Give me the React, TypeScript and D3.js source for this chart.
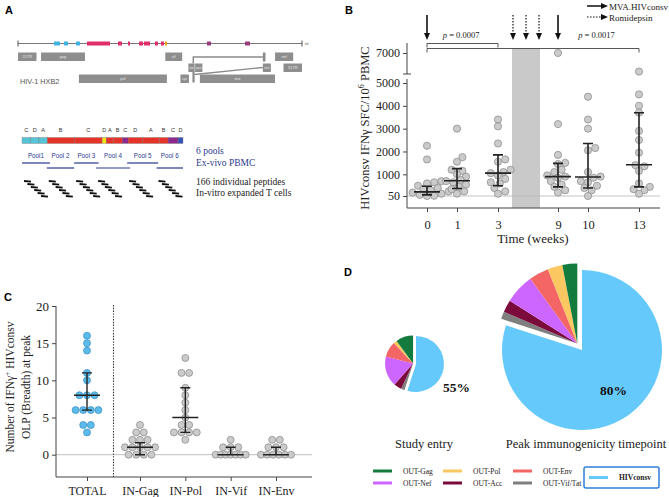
import React, { useEffect, useRef } from "react";
import * as d3 from "d3";

// ---------- A: HXB2 genome map (nt) ----------
const geneNames = ["5'LTR", "gag", "vif", "nef", "tat", "vpu", "rev", "3'LTR", "pol", "vpr", "env"];
const geneStarts = [1, 790, 5041, 8797, 5831, 6062, 8379, 9086, 2085, 5559, 6225];
const geneEnds = [634, 2292, 5619, 9417, 6045, 6310, 8653, 9719, 5096, 5850, 8795];
const geneRows = [0, 0, 0, 0, 1, 1, 1, 1, 2, 2, 2];

// conserved regions on the genome line
const consStarts = [1232, 1574, 1985, 2361, 3422, 3765, 4141, 4312, 4689, 4894, 5031, 6468, 7769];
const consEnds = [1437, 1711, 2122, 3149, 3559, 3833, 4278, 4517, 4791, 4996, 5099, 6605, 7940];
const consGene = ["gag", "gag", "gag", "pol", "pol", "pol", "pol", "pol", "pol", "pol", "vif", "env", "env"];

// immunogen segments (aa)
const segLetters = ["C", "D", "A", "B", "C", "D", "A", "B", "C", "D", "A", "B", "C", "D"];
const segLengths = [42, 40, 40, 130, 135, 20, 34, 43, 29, 68, 82, 43, 48, 24];
const segGene = ["gag", "gag", "gag", "pol", "pol", "vif", "pol", "pol", "env", "pol", "pol", "pol", "env", "tag"];

const poolNames = ["Pool1", "Pool 2", "Pool 3", "Pool 4", "Pool 5", "Pool 6"];
const poolStarts = [0, 120, 252, 358, 508, 650];
const poolEnds = [135, 252, 370, 522, 658, 778];

// ---------- B: IFN-g ELISpot over time ----------
const weeks = [0, 1, 3, 9, 10, 13];
const sfcWeek0 = [2250, 1650, 700, 650, 600, 500, 400, 350, 300, 250, 200, 150, 100, 60, 50];
const sfcWeek1 = [3000, 1750, 1550, 1200, 1150, 1000, 900, 750, 700, 650, 550, 450, 350, 250, 150];
const sfcWeek3 = [3400, 3100, 2350, 1650, 1550, 1200, 1100, 1050, 950, 800, 650, 600, 400, 250, 150];
const sfcWeek9 = [7000, 3200, 1850, 1500, 1450, 1200, 1100, 950, 900, 850, 700, 550, 450, 300, 200];
const sfcWeek10 = [4400, 3400, 3000, 2150, 2050, 1100, 900, 850, 700, 650, 500, 400, 300, 50];
const sfcWeek13 = [5500, 4500, 4000, 3700, 2900, 2500, 1950, 1400, 1350, 1150, 600, 450, 350, 300, 150];
const sfcMedian = [230, 720, 1050, 900, 880, 1420];
const sfcLow = [100, 380, 500, 450, 400, 450];
const sfcHigh = [480, 1250, 1850, 1480, 2350, 3700];
const yTicksLow = [50, 1000, 2000, 3000, 4000, 5000];
const yTicksHigh = [7000];
const mvaWeeks = [0, 9];
const romiWeeks = [4.5, 5.8, 7.1];
const romiPeriod = [4.4, 7.2];
const pFrom = [0, 0];
const pTo = [3, 13];
const pText = ["0.0007", "0.0017"];
const pLabelAt = [1.2, 10.5];

// ---------- C: breadth at peak ----------
const breadthGroups = ["TOTAL", "IN-Gag", "IN-Pol", "IN-Vif", "IN-Env"];
const breadthTotal = [16, 15, 14, 11, 10, 8, 8, 8, 6, 6, 6, 6, 4, 4, 3];
const breadthGag = [4, 3, 3, 2, 2, 2, 1, 1, 1, 1, 1, 0, 0, 0, 0];
const breadthPol = [13, 11, 11, 9, 8, 7, 6, 5, 4, 4, 3, 3, 3, 3, 2];
const breadthVif = [2, 1, 1, 1, 0, 0, 0, 0, 0, 0, 0];
const breadthEnv = [2, 2, 1, 1, 1, 0, 0, 0, 0, 0, 0];
const breadthMedian = [8, 1, 5, 0, 0];
const breadthLow = [6, 0, 3, 0, 0];
const breadthHigh = [11, 1.6, 9, 1, 1];
const breadthTicks = [0, 5, 10, 15, 20];

// ---------- D: pies ----------
const pieLabels = ["HIVconsv", "OUT-Vif/Tat", "OUT-Acc", "OUT-Nef", "OUT-Env", "OUT-Pol", "OUT-Gag"];
const entryPct = [55, 2, 4.5, 17.5, 9, 2, 10];
const peakPct = [80, 1.5, 2.5, 6, 4, 3, 3];
const legendOrder = ["OUT-Gag", "OUT-Pol", "OUT-Env", "OUT-Nef", "OUT-Acc", "OUT-Vif/Tat"];

const serif = "'Liberation Serif', 'Times New Roman', serif";
const sans = "'Liberation Sans', Arial, sans-serif";

// simple beeswarm: returns x offsets
function swarm(ys: number[], r: number) {
  const order = d3.range(ys.length).sort((a, b) => ys[b] - ys[a]);
  const placed: { x: number; y: number }[] = [];
  const xs: number[] = new Array(ys.length).fill(0);
  const minD = 2 * r * 0.85;
  for (const i of order) {
    const y = ys[i];
    const cands = [0];
    for (let k = 1; k < 40; k++) cands.push(k * r * 0.5, -k * r * 0.5);
    let best = 0;
    for (const c of cands) {
      if (placed.every((p) => (p.x - c) ** 2 + (p.y - y) ** 2 >= minD * minD)) {
        best = c;
        break;
      }
    }
    placed.push({ x: best, y });
    xs[i] = best;
  }
  return xs;
}

// symmetric rows for integer data
function rows(vals: number[], spacing: number, maxW: number) {
  const counts = d3.rollup(vals, (v) => v.length, (d) => d);
  const seen = new Map<number, number>();
  return vals.map((v) => {
    const n = counts.get(v) as number;
    const i = seen.get(v) || 0;
    seen.set(v, i + 1);
    const s = n > 1 ? Math.min(spacing, maxW / (n - 1)) : 0;
    return (i - (n - 1) / 2) * s;
  });
}

const App = () => {
  const ref = useRef<SVGSVGElement>(null);

  useEffect(() => {
    const svg = d3.select(ref.current);
    svg.selectAll("*").remove();
    svg.append("rect").attr("width", 669).attr("height", 497).attr("fill", "#fff");

    // panel letters
    const letters: [string, number, number][] = [["A", 5, 14], ["B", 345, 14], ["C", 4, 301], ["D", 344, 276]];
    svg.selectAll("text.plabel").data(letters).enter().append("text")
      .attr("class", "plabel")
      .attr("x", (d) => d[1]).attr("y", (d) => d[2])
      .attr("font-family", sans).attr("font-weight", "bold").attr("font-size", 11)
      .text((d) => d[0]);

    // ================= A =================
    const gA = svg.append("g");
    const xNt = d3.scaleLinear().domain([1, 9719]).range([18, 302]);
    const geneColor: Record<string, string> = { gag: "#3fb4e2", pol: "#e02d6b", vif: "#f3a21e", env: "#9a3b7c" };

    gA.append("line").attr("x1", xNt(1)).attr("x2", xNt(9719)).attr("y1", 43.5).attr("y2", 43.5)
      .attr("stroke", "#777").attr("stroke-width", 1.2);
    [1, 9719].forEach((n) => {
      gA.append("line").attr("x1", xNt(n)).attr("x2", xNt(n)).attr("y1", 40.5).attr("y2", 46.5)
        .attr("stroke", "#555").attr("stroke-width", 1);
    });
    gA.append("text").attr("x", xNt(9719) + 3).attr("y", 45).attr("font-family", sans)
      .attr("font-size", 4).attr("fill", "#444").text("nt");

    gA.selectAll("rect.cons").data(consStarts).enter().append("rect")
      .attr("class", "cons")
      .attr("x", (d) => xNt(d)).attr("width", (d, i) => xNt(consEnds[i]) - xNt(d))
      .attr("y", 41.5).attr("height", 4)
      .attr("fill", (d, i) => geneColor[consGene[i]]);

    const rowY = [52.5, 63.5, 74.5];
    // tat / rev splice connectors
    gA.append("path")
      .attr("d", `M${xNt(6000)},${rowY[1]} V57 H${xNt(8379)}`)
      .attr("fill", "none").attr("stroke", "#8a8a8a").attr("stroke-width", 1.5);
    gA.append("rect").attr("x", xNt(8379)).attr("width", xNt(8469) - xNt(8379))
      .attr("y", rowY[0]).attr("height", 9).attr("fill", "#8a8a8a");
    gA.append("rect").attr("x", xNt(5970)).attr("width", xNt(6045) - xNt(5970))
      .attr("y", rowY[2] - 3).attr("height", 11).attr("fill", "#8a8a8a");
    gA.append("path")
      .attr("d", `M${xNt(6045)},${rowY[2]} L${xNt(8379)},${rowY[1] + 4}`)
      .attr("fill", "none").attr("stroke", "#8a8a8a").attr("stroke-width", 1.3);

    const genes = gA.selectAll("g.gene").data(geneNames).enter().append("g").attr("class", "gene");
    genes.append("rect")
      .attr("x", (d, i) => xNt(geneStarts[i]))
      .attr("width", (d, i) => xNt(geneEnds[i]) - xNt(geneStarts[i]))
      .attr("y", (d, i) => rowY[geneRows[i]]).attr("height", 8.5)
      .attr("fill", "#8e8e8e");
    genes.append("text")
      .attr("x", (d, i) => (xNt(geneStarts[i]) + xNt(geneEnds[i])) / 2)
      .attr("y", (d, i) => rowY[geneRows[i]] + 5.8)
      .attr("text-anchor", "middle").attr("font-family", sans).attr("font-size", 3.8)
      .attr("fill", "#e8e8e8").text((d) => d);

    gA.append("text").attr("x", 20).attr("y", 84).attr("font-family", sans).attr("font-size", 7.3)
      .attr("fill", "#555").text("HIV-1 HXB2");

    // immunogen bar
    const xAa = d3.scaleLinear().domain([0, 778]).range([22, 183]);
    const segStart = segLengths.map((d, i) => d3.sum(segLengths.slice(0, i)));
    const segColor: Record<string, string> = { gag: "#56c3d6", pol: "#e5332a", vif: "#f4e11c", env: "#8c2b8d", tag: "#3652b8" };
    gA.selectAll("rect.seg").data(segLengths).enter().append("rect")
      .attr("class", "seg")
      .attr("x", (d, i) => xAa(segStart[i])).attr("width", (d, i) => xAa(segStart[i] + d) - xAa(segStart[i]))
      .attr("y", 137.5).attr("height", 6)
      .attr("fill", (d, i) => segColor[segGene[i]]).attr("stroke", "#777").attr("stroke-width", 0.35);
    gA.selectAll("text.seg").data(segLetters).enter().append("text")
      .attr("class", "seg")
      .attr("x", (d, i) => xAa(segStart[i] + segLengths[i] / 2)).attr("y", 131.5)
      .attr("text-anchor", "middle").attr("font-family", sans).attr("font-size", 5.5).attr("fill", "#333")
      .text((d) => d);

    const poolBlue = "#2b3a8f";
    gA.selectAll("text.pool").data(poolNames).enter().append("text")
      .attr("class", "pool")
      .attr("x", (d, i) => xAa((poolStarts[i] + poolEnds[i]) / 2)).attr("y", 158)
      .attr("text-anchor", "middle").attr("font-family", sans).attr("font-size", 6.3).attr("fill", poolBlue)
      .text((d) => d);
    gA.selectAll("line.pool").data(poolNames).enter().append("line")
      .attr("class", "pool")
      .attr("x1", (d, i) => xAa(poolStarts[i])).attr("x2", (d, i) => xAa(poolEnds[i]))
      .attr("y1", (d, i) => (i % 2 === 0 ? 163 : 168)).attr("y2", (d, i) => (i % 2 === 0 ? 163 : 168))
      .attr("stroke", poolBlue).attr("stroke-width", 1.2);

    // individual peptide dashes
    poolStarts.forEach((s) => {
      d3.range(6).forEach((k) => {
        const x0 = xAa(s) + 2 + k * 3.4;
        gA.append("line").attr("x1", x0).attr("x2", x0 + 7)
          .attr("y1", 181 + k * 3).attr("y2", 181.6 + k * 3)
          .attr("stroke", "#111").attr("stroke-width", 1.8);
      });
    });

    gA.append("text").attr("x", 196).attr("y", 154).attr("font-family", serif).attr("font-size", 9.5)
      .attr("fill", poolBlue).text("6 pools");
    gA.append("text").attr("x", 196).attr("y", 166).attr("font-family", serif).attr("font-size", 9.5)
      .attr("fill", poolBlue).text("Ex-vivo PBMC");
    gA.append("text").attr("x", 196).attr("y", 185).attr("font-family", serif).attr("font-size", 9.5)
      .attr("fill", "#222").text("166 individual peptides");
    gA.append("text").attr("x", 196).attr("y", 196).attr("font-family", serif).attr("font-size", 9.5)
      .attr("fill", "#222").text("In-vitro expanded T cells");

    // ================= B =================
    const gB = svg.append("g");
    const xW = d3.scaleLinear().domain(weeks).range([427, 457, 498, 558, 588, 639]);
    const yLo = d3.scaleLinear().domain([50, 5000]).range([196, 83]);
    const yHi = d3.scaleLinear().domain([6500, 7500]).range([64, 42]);
    const yB = (v: number) => (v >= 6000 ? yHi(v) : yLo(v));
    const axisX = 407;
    const baseY = 208;

    gB.append("rect").attr("x", xW(romiPeriod[0])).attr("width", xW(romiPeriod[1]) - xW(romiPeriod[0]))
      .attr("y", 48).attr("height", baseY - 48).attr("fill", "#c9c9c9");
    gB.append("line").attr("x1", axisX).attr("x2", 660).attr("y1", yLo(50)).attr("y2", yLo(50))
      .attr("stroke", "#b5b5b5").attr("stroke-width", 0.8);

    // y axis with break
    gB.append("g").attr("transform", `translate(${axisX},0)`)
      .call(d3.axisLeft(yLo).tickValues(yTicksLow).tickSize(4).tickSizeOuter(0).tickFormat(d3.format("d")))
      .call((g) => g.select(".domain").remove());
    gB.append("g").attr("transform", `translate(${axisX},0)`)
      .call(d3.axisLeft(yHi).tickValues(yTicksHigh).tickSize(4).tickSizeOuter(0).tickFormat(d3.format("d")))
      .call((g) => g.select(".domain").remove());
    gB.selectAll(".tick text").attr("font-family", serif).attr("font-size", 12).attr("fill", "#222");
    gB.selectAll(".tick line").attr("stroke", "#444");
    gB.append("path").attr("d", `M${axisX},43 V74 M${axisX - 4},74 H${axisX + 4} M${axisX},79 V${baseY} H660`)
      .attr("fill", "none").attr("stroke", "#444").attr("stroke-width", 1);

    const gBx = gB.append("g").attr("transform", `translate(0,${baseY})`)
      .call(d3.axisBottom(xW).tickValues(weeks).tickSize(4).tickFormat(d3.format("d")))
      .call((g) => g.select(".domain").remove());
    gBx.selectAll("text").attr("font-family", serif).attr("font-size", 12.5).attr("fill", "#222").attr("dy", "1.1em");
    gBx.selectAll("line").attr("stroke", "#444");

    gB.append("text").attr("x", 533).attr("y", 243).attr("text-anchor", "middle")
      .attr("font-family", serif).attr("font-size", 13).attr("fill", "#222").text("Time (weeks)");
    const yl = gB.append("text").attr("transform", "translate(369,128) rotate(-90)")
      .attr("text-anchor", "middle").attr("font-family", serif).attr("font-size", 12.5).attr("fill", "#222");
    yl.append("tspan").text("HIVconsv IFNγ SFC/10");
    yl.append("tspan").attr("font-size", 8).attr("dy", -5).text("6");
    yl.append("tspan").attr("dy", 5).text(" PBMC");

    // points
    const sfcAll = [sfcWeek0, sfcWeek1, sfcWeek3, sfcWeek9, sfcWeek10, sfcWeek13];
    const rB = 3.6;
    sfcAll.forEach((vals, gi) => {
      const ys = vals.map(yB);
      const dx = swarm(ys, rB);
      gB.selectAll(`circle.w${gi}`).data(vals).enter().append("circle")
        .attr("class", `w${gi}`)
        .attr("cx", (d, i) => xW(weeks[gi]) + dx[i]).attr("cy", (d) => yB(d)).attr("r", rB)
        .attr("fill", "#cbcbcb").attr("stroke", "#858585").attr("stroke-width", 0.7);
    });
    weeks.forEach((w, i) => {
      const cx = xW(w);
      gB.append("path")
        .attr("d", `M${cx - 13},${yLo(sfcMedian[i])} H${cx + 13} M${cx},${yLo(sfcLow[i])} V${yLo(sfcHigh[i])} M${cx - 5},${yLo(sfcHigh[i])} H${cx + 5} M${cx - 5},${yLo(sfcLow[i])} H${cx + 5}`)
        .attr("fill", "none").attr("stroke", "#222").attr("stroke-width", 1.6);
    });

    // arrows
    const arrow = (g: any, x: number, y0: number, y1: number, dashed: boolean) => {
      g.append("line").attr("x1", x).attr("x2", x).attr("y1", y0).attr("y2", y1 - 6)
        .attr("stroke", "#111").attr("stroke-width", dashed ? 1.2 : 1.6)
        .attr("stroke-dasharray", dashed ? "1.5,1.5" : null);
      g.append("path").attr("d", `M${x - 3},${y1 - 7} L${x + 3},${y1 - 7} L${x},${y1} Z`).attr("fill", "#111");
    };
    mvaWeeks.forEach((w) => arrow(gB, xW(w), 15, 40, false));
    romiWeeks.forEach((w) => arrow(gB, xW(w), 15, 40, true));

    // p-value brackets
    pFrom.forEach((f, i) => {
      const by = i === 0 ? 43.5 : 48.5;
      gB.append("path").attr("d", `M${xW(f)},${by + 4} V${by} H${xW(pTo[i])} V${by + 4}`)
        .attr("fill", "none").attr("stroke", "#444").attr("stroke-width", 0.9);
      const t = gB.append("text").attr("x", xW(pLabelAt[i])).attr("y", 38).attr("text-anchor", "middle")
        .attr("font-family", serif).attr("font-size", 8.5).attr("fill", "#222");
      t.append("tspan").attr("font-style", "italic").text("p");
      t.append("tspan").text(` = ${pText[i]}`);
    });

    // top legend
    gB.append("line").attr("x1", 587).attr("x2", 602).attr("y1", 6).attr("y2", 6).attr("stroke", "#111").attr("stroke-width", 1.5);
    gB.append("path").attr("d", "M601,3 L608,6 L601,9 Z").attr("fill", "#111");
    gB.append("line").attr("x1", 587).attr("x2", 602).attr("y1", 17).attr("y2", 17).attr("stroke", "#111")
      .attr("stroke-width", 1.2).attr("stroke-dasharray", "1.5,1.5");
    gB.append("path").attr("d", "M601,14 L608,17 L601,20 Z").attr("fill", "#111");
    gB.append("text").attr("x", 609).attr("y", 9.5).attr("font-family", serif).attr("font-size", 9).attr("fill", "#222").text("MVA.HIVconsv");
    gB.append("text").attr("x", 609).attr("y", 20.5).attr("font-family", serif).attr("font-size", 9).attr("fill", "#222").text("Romidepsin");

    // ================= C =================
    const gC = svg.append("g");
    const yC = d3.scaleLinear().domain([-3, 20]).range([477, 306]);
    const xC = d3.scaleLinear().domain([0, 1, 4]).range([87, 140, 276]);
    const cLeft = 56;
    const cRight = 312;

    gC.append("line").attr("x1", cLeft).attr("x2", cRight).attr("y1", yC(0)).attr("y2", yC(0))
      .attr("stroke", "#b8b8b8").attr("stroke-width", 0.9);
    gC.append("line").attr("x1", xC(0.5)).attr("x2", xC(0.5)).attr("y1", 305).attr("y2", 477)
      .attr("stroke", "#333").attr("stroke-width", 1.1).attr("stroke-dasharray", "1.4,1.4");

    const gCy = gC.append("g").attr("transform", `translate(${cLeft},0)`)
      .call(d3.axisLeft(yC).tickValues(breadthTicks).tickSize(4).tickSizeOuter(0))
      .call((g) => g.select(".domain").remove());
    gCy.selectAll("text").attr("font-family", serif).attr("font-size", 13).attr("fill", "#222");
    gCy.selectAll("line").attr("stroke", "#444");
    const gCx = gC.append("g").attr("transform", `translate(0,477)`)
      .call(d3.axisBottom(xC).tickValues(d3.range(5)).tickSize(4).tickFormat((d: any) => breadthGroups[d]))
      .call((g) => g.select(".domain").remove());
    gCx.selectAll("text").attr("font-family", serif).attr("font-size", 12).attr("fill", "#222").attr("dy", "0.95em");
    gCx.selectAll("line").attr("stroke", "#444");
    gC.append("path").attr("d", `M${cLeft},306 V477 H${cRight}`).attr("fill", "none").attr("stroke", "#444");

    const cl = gC.append("text").attr("transform", "translate(14,387) rotate(-90)")
      .attr("text-anchor", "middle").attr("font-family", serif).attr("font-size", 11.5).attr("fill", "#222");
    cl.append("tspan").text("Number of  IFNγ");
    cl.append("tspan").attr("font-size", 7.5).attr("dy", -4).text("+");
    cl.append("tspan").attr("dy", 4).text(" HIVconsv");
    gC.append("text").attr("transform", "translate(30,387) rotate(-90)")
      .attr("text-anchor", "middle").attr("font-family", serif).attr("font-size", 11.5).attr("fill", "#222")
      .text("OLP (Breadth) at peak");

    const breadthAll = [breadthTotal, breadthGag, breadthPol, breadthVif, breadthEnv];
    breadthAll.forEach((vals, gi) => {
      const dx = rows(vals, 7.6, 30);
      gC.selectAll(`circle.c${gi}`).data(vals).enter().append("circle")
        .attr("class", `c${gi}`)
        .attr("cx", (d, i) => xC(gi) + dx[i]).attr("cy", (d) => yC(d)).attr("r", 3.5)
        .attr("fill", gi === 0 ? "#5bbbea" : "#cbcbcb")
        .attr("stroke", gi === 0 ? "#3a8dc0" : "#858585").attr("stroke-width", 0.7);
    });
    breadthGroups.forEach((g, i) => {
      const cx = xC(i);
      gC.append("path")
        .attr("d", `M${cx - 13},${yC(breadthMedian[i])} H${cx + 13} M${cx},${yC(breadthLow[i])} V${yC(breadthHigh[i])} M${cx - 5},${yC(breadthHigh[i])} H${cx + 5} M${cx - 5},${yC(breadthLow[i])} H${cx + 5}`)
        .attr("fill", "none").attr("stroke", "#222").attr("stroke-width", 1.4);
    });

    // ================= D =================
    const gD = svg.append("g");
    const pieColor: Record<string, string> = {
      HIVconsv: "#66c9fb", "OUT-Vif/Tat": "#7f7f7f", "OUT-Acc": "#7b0b3b", "OUT-Nef": "#cc66ff",
      "OUT-Env": "#f46565", "OUT-Pol": "#fbc761", "OUT-Gag": "#137b3e",
    };
    const pie = d3.pie<number>().sort(null).value((d) => d);
    const drawPie = (vals: number[], cx: number, cy: number, r: number, explode: number) => {
      const arcs = pie(vals);
      const arc = d3.arc<any>().innerRadius(0).outerRadius(r);
      const restStart = arcs[1].startAngle;
      const mid = (restStart + 2 * Math.PI) / 2;
      const ox = Math.sin(mid) * explode;
      const oy = -Math.cos(mid) * explode;
      const g = gD.append("g").attr("transform", `translate(${cx},${cy})`);
      g.selectAll("path").data(arcs).enter().append("path")
        .attr("d", arc)
        .attr("transform", (d, i) => (i === 0 ? null : `translate(${ox},${oy})`))
        .attr("fill", (d, i) => pieColor[pieLabels[i]]);
    };
    drawPie(entryPct, 416, 364, 28, 3);
    drawPie(peakPct, 582, 350, 80, 8);

    gD.append("text").attr("x", 443).attr("y", 392).attr("font-family", serif).attr("font-weight", "bold")
      .attr("font-size", 13.5).attr("fill", "#111").text(`${entryPct[0]}%`);
    gD.append("text").attr("x", 600).attr("y", 395).attr("font-family", serif).attr("font-weight", "bold")
      .attr("font-size", 13.5).attr("fill", "#111").text(`${peakPct[0]}%`);
    gD.append("text").attr("x", 424).attr("y", 448).attr("text-anchor", "middle").attr("font-family", serif)
      .attr("font-size", 12.5).attr("fill", "#222").text("Study entry");
    gD.append("text").attr("x", 586).attr("y", 448).attr("text-anchor", "middle").attr("font-family", serif)
      .attr("font-size", 12.5).attr("fill", "#222").text("Peak immunogenicity timepoint");

    // legend
    legendOrder.forEach((name, i) => {
      const col = i % 3;
      const row = Math.floor(i / 3);
      const lx = 373 + col * 70;
      const ly = 471 + row * 12;
      gD.append("line").attr("x1", lx).attr("x2", lx + 19).attr("y1", ly).attr("y2", ly)
        .attr("stroke", pieColor[name]).attr("stroke-width", 3);
      gD.append("text").attr("x", lx + 30).attr("y", ly + 2.5).attr("font-family", serif)
        .attr("font-size", 7.5).attr("fill", "#222").text(name);
    });
    gD.append("rect").attr("x", 584).attr("y", 467).attr("width", 75).attr("height", 21).attr("rx", 2)
      .attr("fill", "#fff").attr("stroke", "#2f7fd8").attr("stroke-width", 1.5);
    gD.append("line").attr("x1", 589).attr("x2", 608).attr("y1", 477.5).attr("y2", 477.5)
      .attr("stroke", pieColor.HIVconsv).attr("stroke-width", 3);
    gD.append("text").attr("x", 619).attr("y", 480).attr("font-family", serif).attr("font-weight", "bold")
      .attr("font-size", 7.5).attr("fill", "#222").text("HIVconsv");
  }, []);

  return <svg ref={ref} width={669} height={497} style={{ position: "absolute", left: 0, top: 0 }} />;
};

export default App;
